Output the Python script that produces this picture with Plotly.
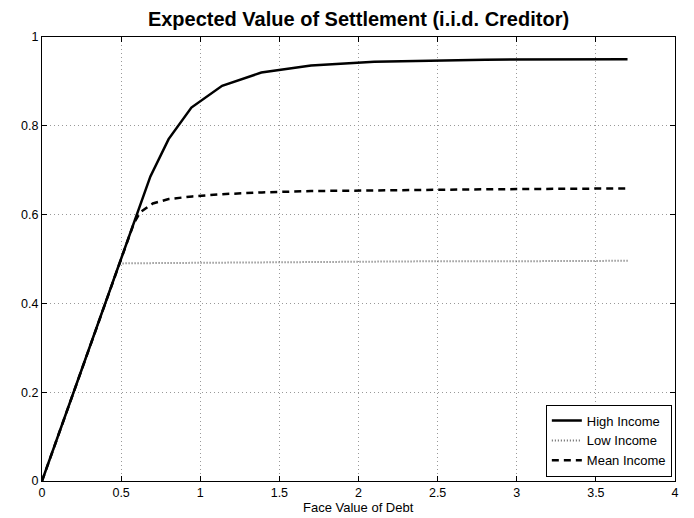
import plotly.graph_objects as go

# Data
high_x = [0, 0.685, 0.80, 0.944, 1.138, 1.386, 1.70, 2.10, 2.80, 3.70]
high_y = [0, 0.686, 0.770, 0.841, 0.890, 0.920, 0.936, 0.944, 0.949, 0.950]

low_x = [0, 0.49, 0.60, 0.80, 1.0, 1.5, 2.0, 2.5, 3.0, 3.70]
low_y = [0, 0.490, 0.4905, 0.491, 0.492, 0.493, 0.494, 0.495, 0.495, 0.496]

mean_x = [0, 0.58, 0.62, 0.70, 0.80, 0.95, 1.14, 1.39, 1.70, 2.10, 2.80, 3.70]
mean_y = [0, 0.580, 0.605, 0.625, 0.635, 0.641, 0.646, 0.650, 0.653, 0.655, 0.657, 0.659]

x_ticks = [0, 0.5, 1, 1.5, 2, 2.5, 3, 3.5, 4]
x_tick_labels = ["0", "0.5", "1", "1.5", "2", "2.5", "3", "3.5", "4"]
y_ticks = [0, 0.2, 0.4, 0.6, 0.8, 1]
y_tick_labels = ["0", "0.2", "0.4", "0.6", "0.8", "1"]

FONT = "Liberation Sans, Arial, Helvetica, sans-serif"

fig = go.Figure()
fig.add_trace(go.Scatter(x=low_x, y=low_y, mode="lines", name="Low Income",
                         line=dict(color="#666666", width=2, dash="1px,2px"),
                         legendrank=2))
fig.add_trace(go.Scatter(x=high_x, y=high_y, mode="lines", name="High Income",
                         line=dict(color="black", width=2.5),
                         legendrank=1))
fig.add_trace(go.Scatter(x=mean_x, y=mean_y, mode="lines", name="Mean Income",
                         line=dict(color="black", width=2.5, dash="7px,5px"),
                         legendrank=3))

axis_common = dict(
    showline=True, linecolor="black", linewidth=1, mirror="ticks",
    ticks="inside", ticklen=5, tickcolor="black", tickwidth=1,
    showgrid=True, gridcolor="#999999", gridwidth=1, griddash="1px,3px",
    zeroline=False, tickfont=dict(family=FONT, size=12.5, color="black"),
)

fig.update_xaxes(range=[0, 4], tickvals=x_ticks, ticktext=x_tick_labels, **axis_common)
fig.update_yaxes(range=[0, 1], tickvals=y_ticks, ticktext=y_tick_labels, **axis_common)

fig.add_annotation(text="Face Value of Debt", xref="paper", yref="paper",
                   x=0.5, y=-0.06, xanchor="center", yanchor="middle",
                   showarrow=False, font=dict(family=FONT, size=13, color="black"))

fig.update_layout(
    width=694, height=518,
    margin=dict(l=42, r=19, t=37, b=37),
    paper_bgcolor="white", plot_bgcolor="white",
    title=dict(text="<b>Expected Value of Settlement (i.i.d. Creditor)</b>",
               font=dict(family=FONT, size=20, color="black"),
               x=0.5, xref="paper", xanchor="center", y=0.964, yanchor="middle"),
    legend=dict(x=0.995, y=0.01, xanchor="right", yanchor="bottom",
                bgcolor="white", bordercolor="black", borderwidth=1,
                font=dict(family=FONT, size=13, color="black"),
                tracegroupgap=0, itemwidth=30),
    showlegend=True,
)

fig.write_html("out.html", config={"displayModeBar": False},
               post_script="document.body.style.margin='0';")
